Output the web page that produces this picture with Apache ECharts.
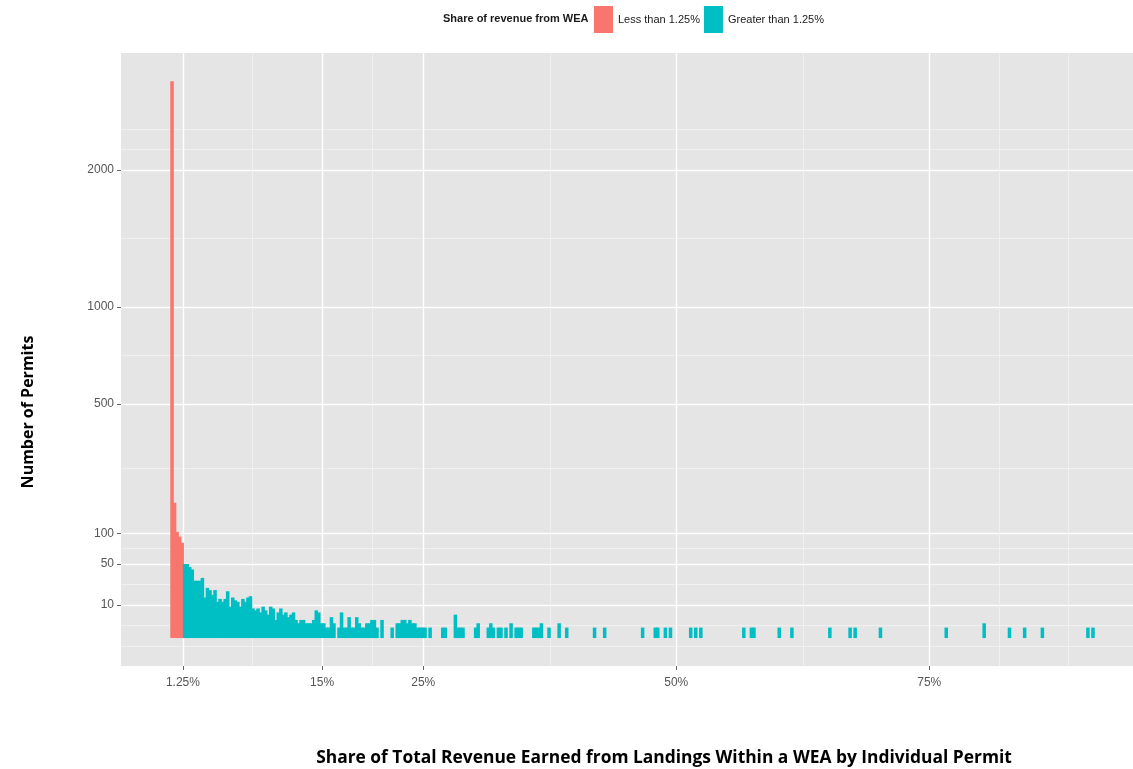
<!DOCTYPE html>
<html>
<head>
<meta charset="utf-8">
<title>Share of revenue from WEA</title>
<script src="https://cdn.jsdelivr.net/npm/echarts@6/dist/echarts.min.js"></script>
<style>
  html, body { margin: 0; padding: 0; background: #fff; }
  #chart { width: 1133px; height: 769px; }
</style>
</head>
<body>
<div id="chart"></div>
<script>
// histogram bins, 0.25 percentage points wide
var binWidth = 0.25;

// permits below 1.25% (bins from 0%)
var lessCounts = [2830, 167, 103, 94, 83];

// permits above 1.25%, consecutive bins from 1.25%
var greaterCounts = [
  50, 50, 46, 43, 30, 30, 30, 33, 15, 23, 21, 17, 21,
  12, 14, 12, 14, 20, 9, 15, 13, 12, 9, 14, 12, 15, 16,
  8, 7, 8, 6, 9, 7, 5, 9, 8, 3, 6, 8,
  5, 6, 4, 5, 6, 3, 2, 3, 3, 2, 2, 2, 3, 7, 6, 2, 2,
  1, 1, 4, 2, 0, 1, 6, 1, 1, 4, 1, 1, 4, 2, 1, 1, 2, 2,
  3, 3, 1, 0, 3, 0, 0, 0, 1, 0, 2, 2, 3, 3, 2, 3, 2, 2,
  1, 1, 1, 1, 0, 1, 0, 0, 0, 0, 1, 1, 0, 0, 0, 5, 1, 1, 1,
  0, 0, 0, 0, 1, 2
];

// isolated bars out in the tail: bin start (%) and count
var tailStarts = [31.25, 31.5, 31.75, 32.25, 32.5, 33, 33.5, 34, 34.25, 34.5,
  35.75, 36, 36.25, 36.5, 37.25, 38.25, 39, 41.75, 42.75, 46.5, 47.75, 48,
  48.75, 49.25, 51.25, 51.75, 52.25, 56.5, 57.25, 57.5, 60, 61.25, 65, 67,
  67.5, 70, 76.5, 80.25, 82.75, 84.25, 86, 90.5, 91];
var tailCounts = [1, 2, 1, 1, 1, 1, 2, 1, 1, 1,
  1, 1, 1, 2, 1, 2, 1, 1, 1, 1, 1, 1,
  1, 1, 1, 1, 1, 1, 1, 1, 1, 1, 1, 1,
  1, 1, 1, 2, 1, 1, 1, 1, 1];

var xTicks = [1.25, 15, 25, 50, 75];
var yTicks = [10, 50, 100, 500, 1000, 2000];

var seriesNames = ['Less than 1.25%', 'Greater than 1.25%'];
var colors = ['#F8766D', '#00BFC4'];

// axis limits (x in %, y in sqrt(count))
var xMin = -4.87, xMax = 95.13;
var yMin = -2.67, yMax = 55.9;

var lessData = [];
lessCounts.forEach(function (n, i) {
  if (n > 0) lessData.push([i * binWidth, n]);
});
var greaterData = [];
greaterCounts.forEach(function (n, i) {
  if (n > 0) greaterData.push([1.25 + i * binWidth, n]);
});
tailStarts.forEach(function (s, i) {
  greaterData.push([s, tailCounts[i]]);
});

// ggplot-style minor breaks: midpoints, plus one extra break past each end
function minorBreaks(b, lo, hi) {
  var d = b[1] - b[0];
  var ext = [b[0] - d].concat(b, [b[b.length - 1] + d]);
  var out = [];
  for (var i = 0; i < ext.length; i++) {
    if (i > 0) out.push((ext[i - 1] + ext[i]) / 2);
    if (i === 0 || i === ext.length - 1) out.push(ext[i]);
  }
  return out.filter(function (v) { return v > lo && v < hi; });
}

var ySqrtTicks = yTicks.map(function (v) { return Math.sqrt(v); });
var xMinor = minorBreaks(xTicks, xMin, xMax);
var yMinor = minorBreaks(ySqrtTicks, yMin, yMax);

function renderBar(params, api) {
  var x0 = api.value(0);
  var n = api.value(1);
  var p0 = api.coord([x0, 0]);
  var p1 = api.coord([x0 + binWidth, Math.sqrt(n)]);
  // overlap by a pixel so neighbouring bins join without seams
  return {
    type: 'rect',
    shape: { x: p0[0], y: p1[1], width: p1[0] - p0[0] + 1, height: p0[1] - p1[1] },
    style: { fill: api.visual('color') }
  };
}

var chart = echarts.init(document.getElementById('chart'));

var option = {
  animation: false,
  backgroundColor: '#ffffff',
  color: colors,
  title: {
    text: 'Share of revenue from WEA',
    left: 443,
    top: 13,
    padding: 0,
    textStyle: { fontFamily: 'Liberation Sans', fontSize: 11, fontWeight: 'bold', color: '#1a1a1a' }
  },
  legend: {
    data: seriesNames,
    left: 594,
    top: 6,
    padding: 0,
    icon: 'rect',
    itemWidth: 19,
    itemHeight: 27,
    itemGap: 4,
    textStyle: { fontFamily: 'Liberation Sans', fontSize: 11, color: '#1a1a1a' }
  },
  grid: {
    left: 121, right: 0, top: 53, bottom: 103,
    show: true, backgroundColor: '#E5E5E5', borderWidth: 0
  },
  xAxis: [
    {
      type: 'value', min: xMin, max: xMax,
      axisLine: { show: false, onZero: false },
      axisTick: { show: true, length: 4, customValues: xTicks, lineStyle: { color: '#666' } },
      axisLabel: {
        customValues: xTicks, margin: 11,
        fontFamily: 'Liberation Sans', fontSize: 12, color: '#555',
        formatter: function (v) { return v + '%'; }
      },
      splitLine: { show: true, lineStyle: { color: '#ffffff', width: 1.4 } }
    },
    {
      type: 'value', min: xMin, max: xMax, position: 'top',
      axisLine: { show: false, onZero: false },
      axisTick: { show: false, customValues: xMinor },
      axisLabel: { show: false, customValues: xMinor },
      splitLine: { show: true, lineStyle: { color: '#F2F2F2', width: 0.8 } }
    }
  ],
  yAxis: [
    {
      type: 'value', min: yMin, max: yMax,
      axisLine: { show: false, onZero: false },
      axisTick: { show: true, length: 4, customValues: ySqrtTicks, lineStyle: { color: '#666' } },
      axisLabel: {
        customValues: ySqrtTicks, margin: 7,
        fontFamily: 'Liberation Sans', fontSize: 12, color: '#555',
        formatter: function (v) { return String(Math.round(v * v)); }
      },
      splitLine: { show: true, lineStyle: { color: '#ffffff', width: 1.4 } }
    },
    {
      type: 'value', min: yMin, max: yMax, position: 'right',
      axisLine: { show: false, onZero: false },
      axisTick: { show: false, customValues: yMinor },
      axisLabel: { show: false, customValues: yMinor },
      splitLine: { show: true, lineStyle: { color: '#F2F2F2', width: 0.8 } }
    }
  ],
  graphic: [
    {
      type: 'text', x: 28, y: 412, rotation: Math.PI / 2,
      style: {
        text: 'Number of Permits', align: 'center', verticalAlign: 'middle',
        font: 'bold 16px "Open Sans"', fill: '#000'
      }
    },
    {
      type: 'text', x: 664, y: 758,
      style: {
        text: 'Share of Total Revenue Earned from Landings Within a WEA by Individual Permit',
        align: 'center', verticalAlign: 'middle',
        font: 'bold 17.4px "Open Sans"', fill: '#000'
      }
    }
  ],
  series: [
    {
      name: seriesNames[0], type: 'custom', renderItem: renderBar,
      xAxisIndex: 0, yAxisIndex: 0, data: lessData, z: 5
    },
    {
      name: seriesNames[1], type: 'custom', renderItem: renderBar,
      xAxisIndex: 0, yAxisIndex: 0, data: greaterData, z: 5
    }
  ]
};

chart.setOption(option);
</script>
</body>
</html>
